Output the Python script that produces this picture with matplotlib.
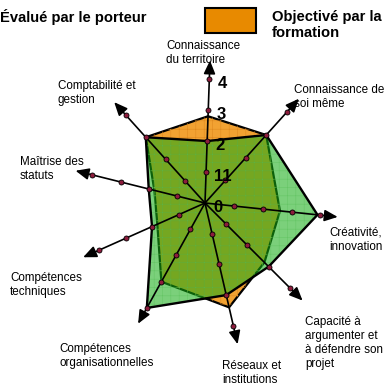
import numpy as np
import matplotlib
matplotlib.use("Agg")
import matplotlib.pyplot as plt
from matplotlib.patches import Polygon, Rectangle

plt.rcParams['font.family'] = ['Liberation Sans', 'DejaVu Sans']
plt.rcParams['hatch.linewidth'] = 0.4

# ---- data ----
categories = ["Connaissance\ndu territoire", "Connaissance de\nsoi même", "Créativité,\ninnovation",
              "Capacité à\nargumenter et\nà défendre son\nprojet", "Réseaux et\ninstitutions",
              "Compétences\norganisationnelles", "Compétences\ntechniques", "Maîtrise des\nstatuts",
              "Comptabilité et\ngestion"]
porteur = [2, 3, 3.9, 3, 3, 4, 2, 2, 3]
formation = [2.8, 3, 2.6, 2.8, 3.4, 3, 1.8, 1.8, 3]
tick_values = [1, 2, 3, 4]
tick_labels = ["0", "11", "2", "3", "4"]
series_names = ["Évalué par le porteur", "Objectivé par la\nformation"]

# ---- layout ----
W, H = 388, 390
cx, cy = 205, 203
axis_angles_deg = [88, 48, -6, -45, -77, -119, -156, 166, 132]
axis_unit_px = [31, 30.5, 29, 30, 31.5, 30, 29, 29, 29.5]
arrow_len = 4.6
label_pos = [(166, 53), (294, 97), (329, 240), (305, 343), (222, 373),
             (59, 356), (10, 285), (20, 169), (58, 93)]

green = (20/255, 172/255, 20/255, 0.56)
orange = '#f2a232'
dot_color = '#8c1c3c'

fig = plt.figure(figsize=(W/100, H/100), dpi=100)
ax = fig.add_axes([0, 0, 1, 1])
ax.set_xlim(0, W)
ax.set_ylim(H, 0)
ax.axis('off')

ang = np.radians(axis_angles_deg)
unit = np.array(axis_unit_px)

def pt(i, v):
    return (cx + v * unit[i] * np.cos(ang[i]), cy - v * unit[i] * np.sin(ang[i]))

n = len(categories)
poly_f = [pt(i, formation[i]) for i in range(n)]
poly_p = [pt(i, porteur[i]) for i in range(n)]

# orange (formation) underneath
ax.add_patch(Polygon(poly_f, closed=True, facecolor=orange, edgecolor='black', lw=1.6, zorder=2, joinstyle='miter'))
ax.add_patch(Polygon(poly_f, closed=True, facecolor='none', edgecolor='#e08a20', hatch='++', lw=0, zorder=2.1))
# green (porteur) semi-transparent on top
ax.add_patch(Polygon(poly_p, closed=True, facecolor=green, edgecolor='none', zorder=3))
ax.add_patch(Polygon(poly_p, closed=True, facecolor='none', edgecolor=(0.35, 0.75, 0.35, 0.6), hatch='++', lw=0, zorder=3.1))
ax.add_patch(Polygon(poly_p, closed=True, facecolor='none', edgecolor='black', lw=1.7, zorder=3.2, joinstyle='miter'))

# axes with arrows and tick dots
for i in range(n):
    tip = pt(i, arrow_len)
    ax.annotate('', xy=tip, xytext=(cx, cy),
                arrowprops=dict(arrowstyle='-|>,head_length=0.8,head_width=0.35', color='black', lw=1.2,
                                shrinkA=0, shrinkB=0, mutation_scale=10), zorder=4)
    xs, ys = zip(*[pt(i, t) for t in tick_values])
    ax.plot(xs, ys, linestyle='none', marker='o', markersize=3.6, mfc=dot_color, mec='black', mew=0.6, zorder=5)

# tick labels along first axis
for k, lab in enumerate(tick_labels):
    x, y = pt(0, k)
    ax.text(x + 8, y + 4, lab, fontsize=12, fontweight='bold', ha='left', va='center', zorder=6)

# category labels
for lab, (x, y) in zip(categories, label_pos):
    ax.text(x, y, lab, fontsize=8.4, ha='left', va='center', linespacing=1.25, zorder=6)

# legend
ax.text(0, 17, series_names[0], fontsize=10.6, fontweight='bold', ha='left', va='center')
ax.add_patch(Rectangle((205, 8), 51, 25, facecolor='#e88a00', edgecolor='black', lw=1.5))
ax.text(272, 25, series_names[1], fontsize=10.6, fontweight='bold', ha='left', va='center', linespacing=1.15)

fig.savefig('out.png', dpi=100)
